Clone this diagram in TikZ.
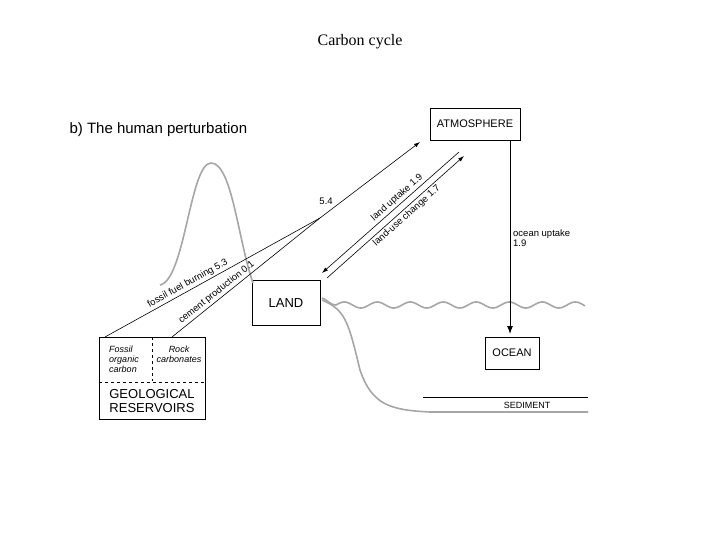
\documentclass[tikz,border=0pt]{standalone}
\usepackage{fontspec}
\setsansfont{Liberation Sans}
\setmainfont{Liberation Serif}
\usetikzlibrary{arrows.meta}
\begin{document}
\begin{tikzpicture}[x=1pt,y=-1pt,
  box/.style={draw,line width=0.8pt,inner sep=0pt,font=\sffamily},
  flow/.style={line width=0.6pt},
  gray line/.style={draw=gray!70,line width=1.6pt},
  lbl/.style={font=\sffamily\fontsize{9.5}{9.5}\selectfont,inner sep=2pt}]
\useasboundingbox (0,0) rectangle (720,540);
\node[font=\fontsize{16}{16}\selectfont] (title) at (360,42) {Carbon cycle};
\node[anchor=west,font=\sffamily\fontsize{15}{15}\selectfont] (sub) at (66,130) {b) The human perturbation};
% boxes
\node[box,minimum width=90pt,minimum height=32pt,font=\sffamily\fontsize{11}{11}\selectfont] (atm) at (475,124) {ATMOSPHERE};
\node[box,minimum width=68pt,minimum height=45pt,font=\sffamily\fontsize{13}{13}\selectfont] (land) at (286,303) {LAND};
\node[box,minimum width=54pt,minimum height=32pt,font=\sffamily\fontsize{11}{11}\selectfont] (ocean) at (512,353) {OCEAN};
\node[box,minimum width=106pt,minimum height=82pt] (geo) at (152,378) {};
\draw[dashed] (geo.west |- 0,382) -- (geo.east |- 0,382);
\draw[dashed] (152,337) -- (152,381);
\node[font=\sffamily\itshape\fontsize{9}{10}\selectfont,align=left] (fos) at (124,359) {Fossil\\organic\\carbon};
\node[font=\sffamily\itshape\fontsize{9}{10}\selectfont,align=center] (rock) at (179,354) {Rock\\carbonates};
\node[font=\sffamily\fontsize{13}{14}\selectfont,align=center] (gr) at (152,401) {GEOLOGICAL\\RESERVOIRS};
% gray curves
\draw[gray line] (160,285) .. controls (185,280) and (190,163) .. (211,163) .. controls (232,163) and (238,240) .. (253,283);
\draw[gray line] (322,298) .. controls (328,300) and (330,305) .. (336,305)
  -- plot[domain=336:585,samples=150] (\x,{305-3*sin((\x-336)*10.909)});
\draw[gray line] (322,300) .. controls (345,310) and (348,320) .. (360,370) .. controls (372,405) and (390,410) .. (430,412) -- (588,412);
\draw[line width=0.7pt] (423,397) -- (588,397);
\node[font=\sffamily\fontsize{9}{9}\selectfont] (sed) at (527,405) {SEDIMENT};
% flows
\coordinate (m) at (320,218);
\coordinate (g1) at (105,337);
\coordinate (g2) at (172,337);
\draw[flow] (g1) -- (m) node[lbl,pos=0.4,sloped,above] {fossil fuel burning 5.3};
\draw[flow] (g2) -- (m) node[lbl,pos=0.33,sloped,above] {cement production 0.1};
\draw[flow,-{Latex[length=6pt,width=4pt]}] (m) -- (420,142) node[lbl,pos=0.15,above left] {5.4};
\draw[flow,-{Latex[length=6pt,width=4pt]}] (459,152) -- (322,273) node[lbl,pos=0.42,sloped,above] {land uptake 1.9};
\draw[flow,-{Latex[length=6pt,width=4pt]}] (327,278) -- (464,156) node[lbl,pos=0.55,sloped,below] {land-use change 1.7};
\draw[line width=1pt,-{Latex[length=8pt,width=6pt]}] (510,140) -- (510,334);
\node[lbl,anchor=west,align=left] (ou) at (511,238) {ocean uptake\\1.9};
\end{tikzpicture}
\end{document}
